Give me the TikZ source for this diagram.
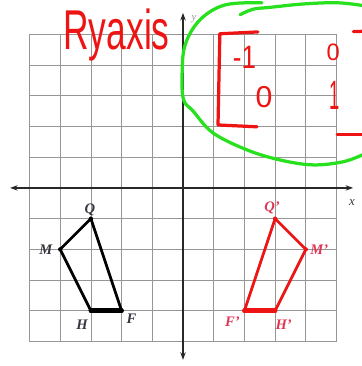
\documentclass[tikz,border=0pt]{standalone}
\usepackage{fontspec}
\setmainfont{Liberation Serif}
\newfontfamily\handfont{Liberation Sans}
\usetikzlibrary{arrows.meta}
\definecolor{gridc}{RGB}{150,150,150}
\definecolor{axisc}{RGB}{40,40,40}
\definecolor{penred}{RGB}{238,20,20}
\definecolor{pengreen}{RGB}{40,225,30}
\definecolor{lblred}{RGB}{225,55,85}
\definecolor{lblblk}{RGB}{55,55,65}
\tikzset{
  gridline/.style={draw=gridc, line width=0.7pt},
  axisline/.style={draw=axisc, line width=1.1pt, {Stealth[length=7pt,width=5pt]}-{Stealth[length=7pt,width=5pt]}},
  blkpoly/.style={draw=black, line width=2.6pt, line join=round, line cap=round},
  redpoly/.style={draw=penred, line width=2.6pt, line join=round, line cap=round},
  vtx/.style={circle, inner sep=0pt, minimum size=4pt},
  blklbl/.style={text=lblblk, font=\fontsize{13.5}{13.5}\selectfont\bfseries\itshape, inner sep=0pt},
  redlbl/.style={text=lblred, font=\fontsize{13.5}{13.5}\selectfont\bfseries\itshape, inner sep=0pt},
  greenpen/.style={draw=pengreen, line width=3pt, line cap=round, line join=round},
  redpen/.style={draw=penred, line width=3pt, line cap=round, line join=round},
  redink/.style={text=penred, inner sep=0pt},
}
\begin{document}
\begin{tikzpicture}[x=1cm,y=1cm]
\useasboundingbox (-5.96,-5.80) rectangle (5.80,6.12);
\fill[white] (-5.96,-5.80) rectangle (5.80,6.12);
% grid
\draw[gridline] (-5,-5) grid (5,5);
% axes
\coordinate (xl) at (-5.63,0);
\coordinate (xr) at (5.54,0);
\coordinate (yb) at (0,-5.60);
\coordinate (yt) at (0,5.70);
\draw[axisline] (xl) -- (xr);
\draw[axisline] (yb) -- (yt);
\node[text=lblblk, font=\fontsize{12}{12}\selectfont\itshape, inner sep=0pt] (xlab) at (5.50,-0.49) {x};
\node[text=gridc, font=\fontsize{10}{10}\selectfont\itshape, inner sep=0pt] (ylab) at (0.36,5.50) {y};
% black quadrilateral
\node[vtx, fill=black] (Q) at (-3,-1) {};
\node[vtx, fill=black] (M) at (-4,-2) {};
\node[vtx, fill=black] (H) at (-3,-4) {};
\node[vtx, fill=black] (F) at (-2,-4) {};
\draw[blkpoly] (Q.center) -- (M.center) -- (H.center);
\draw[blkpoly] (F.center) -- (Q.center);
\draw[blkpoly, line width=4.2pt] (H.center) -- (F.center);
\node[blklbl] (Ql) at (-3.03,-0.70) {Q};
\node[blklbl] (Ml) at (-4.47,-2.02) {M};
\node[blklbl] (Hl) at (-3.29,-4.46) {H};
\node[blklbl] (Fl) at (-1.68,-4.25) {F};
% red quadrilateral
\node[vtx, fill=penred] (Qp) at (3,-1) {};
\node[vtx, fill=penred] (Mp) at (4,-2) {};
\node[vtx, fill=penred] (Hp) at (3,-4) {};
\node[vtx, fill=penred] (Fp) at (2,-4) {};
\draw[redpoly] (Qp.center) -- (Mp.center) -- (Hp.center);
\draw[redpoly] (Fp.center) -- (Qp.center);
\draw[redpoly, line width=4.2pt] (Hp.center) -- (Fp.center);
\node[redlbl] (Qpl) at (2.90,-0.66) {Q'};
\node[redlbl] (Mpl) at (4.44,-2.02) {M'};
\node[redlbl] (Fpl) at (1.61,-4.36) {F'};
\node[redlbl] (Hpl) at (3.28,-4.46) {H'};
% handwritten title
\node[redink, anchor=base west, font=\handfont\fontsize{40}{40}\selectfont, xscale=0.82, yscale=1.3] (title) at (-3.90,4.50) {Ryaxis};
% green loop
\draw[greenpen] plot[smooth, tension=0.6] coordinates {(2.57,6.03) (1.37,5.96) (0.55,5.47) (0.07,4.66) (-0.03,3.68) (0.02,2.87) (0.33,2.50) (0.98,1.79) (2.08,1.24) (3.16,0.91) (4.23,0.75) (5.21,0.85) (5.85,1.08)};
\draw[greenpen] plot[smooth, tension=0.6] coordinates {(1.86,5.64) (2.28,5.82) (2.83,5.88) (3.91,5.99) (5.02,6.03) (5.85,5.94)};
% matrix
\coordinate (lb1) at (2.44,5.08);
\coordinate (lb2) at (1.20,5.02);
\coordinate (lb3) at (1.14,2.05);
\coordinate (lb4) at (2.41,1.99);
\draw[redpen] (lb1) -- (lb2) -- (lb3) -- (lb4);
\coordinate (rb1) at (5.55,5.09);
\coordinate (rb2) at (5.85,5.10);
\coordinate (rb3) at (5.02,1.73);
\coordinate (rb4) at (5.85,1.73);
\draw[redpen] (rb1) -- (rb2);
\draw[redpen] (rb3) -- (rb4);
\node[redink, font=\handfont\fontsize{30}{30}\selectfont, xscale=0.8] (m11) at (2.00,4.26) {-1};
\node[redink, font=\handfont\fontsize{28}{28}\selectfont] (m21) at (2.64,2.96) {0};
\node[redink, font=\handfont\fontsize{22}{22}\selectfont] (m12) at (4.89,4.40) {0};
\node[redink, font=\handfont\fontsize{38}{38}\selectfont, xscale=0.45] (m22) at (4.93,3.00) {1};
\end{tikzpicture}
\end{document}
